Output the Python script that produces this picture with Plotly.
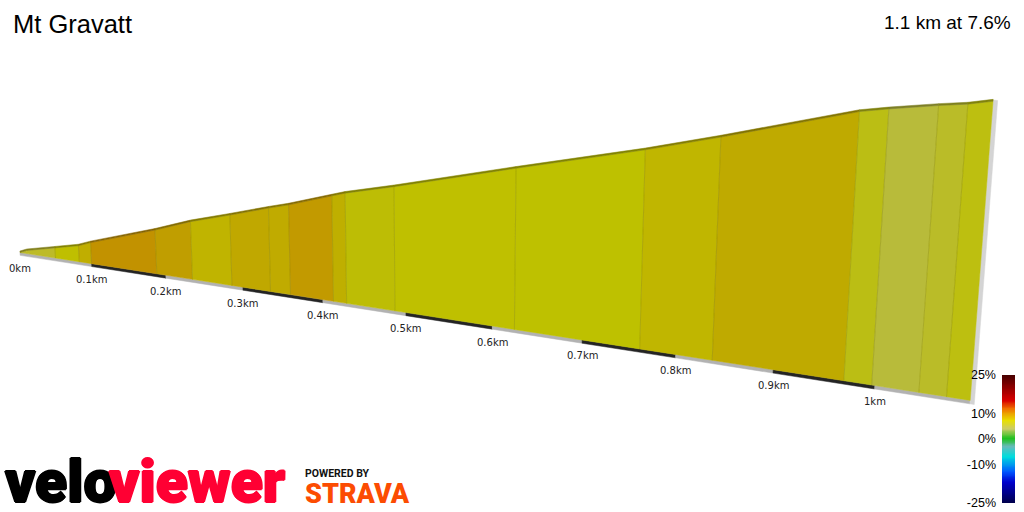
"""Mt Gravatt climb profile drawn as a wall seen in perspective."""
import plotly.graph_objects as go

# profile
distance_km = [0, 0.01, 0.05, 0.083, 0.1, 0.188, 0.235, 0.286, 0.335, 0.36, 0.413, 0.429,
               0.487, 0.625, 0.762, 0.838, 0.97, 0.997, 1.042, 1.068, 1.09]
elevation_m = [0, 1.1, 3.5, 5.5, 7.2, 14.7, 19.2, 23.2, 27.2, 29.1, 33.8, 35.2,
               39.2, 49.4, 59.2, 65.2, 76.2, 77.7, 79.9, 81.0, 82.4]
segment_colors = ["#BDBB28", "#BDBB28", "#BFBF00", "#C0AE00", "#C29200", "#C09E00", "#C0B400",
                  "#C0A800", "#C0AB00", "#C29A00", "#BFAF00", "#BDBD05", "#BFC000",
                  "#BEC100", "#C0B600", "#BFAA00", "#BBBE14", "#B8BB3A", "#BABC28", "#BDBF10"]

tick_km = [0, 0.1, 0.2, 0.3, 0.4, 0.5, 0.6, 0.7, 0.8, 0.9, 1.0, 1.09]
tick_labels = ["0km", "0.1km", "0.2km", "0.3km", "0.4km", "0.5km",
               "0.6km", "0.7km", "0.8km", "0.9km", "1km"]

scale_values = [25, 15.3, 12, 7.5, 4.2, 0.3, -2.7, -6.8, -12.7, -16.6, -25]
scale_colors = ["#4A0000", "#D80000", "#F07000", "#E8E000", "#CCCC66", "#20C020",
                "#66BBBB", "#00DDDD", "#0055FF", "#0000CC", "#00004A"]
scale_ticks = [25, 10, 0, -10, -25]
scale_labels = ["25%", "10%", "0%", "-10%", "-25%"]
scale_levels = list(range(-25, 26))


def project(d, z):
    """Perspective map of wall coordinates (km, metres) to page pixels."""
    e = -0.000407 * z
    w = 1 - 0.177 * d + e
    return (700 * d + 20 + 443 * e) / w, (64.8 * d + 252.5 + 7300 * e) / w


def quad(d0, z0, d1, z1, z2, z3):
    """Closed polygon between two wall columns."""
    pts = [project(d0, z0), project(d1, z1), project(d1, z2), project(d0, z3), project(d0, z0)]
    return [p[0] for p in pts], [p[1] for p in pts]


def add_poly(fig, xs, ys, color):
    fig.add_trace(go.Scatter(x=xs, y=ys, mode="lines", fill="toself", fillcolor=color,
                             line=dict(color=color, width=0.5), hoverinfo="skip",
                             showlegend=False))


def darken(color, k=0.68):
    r, g, b = (int(color[i:i + 2], 16) for i in (1, 3, 5))
    return f"rgb({r * k:.0f},{g * k:.0f},{b * k:.0f})"


fig = go.Figure()

# base strip, alternating grey and black every 100 m
for i in range(len(tick_km) - 1):
    color = "#242424" if i % 2 else "#B2B2B2"
    add_poly(fig, *quad(tick_km[i], 0, tick_km[i + 1], 0, -1, -1), color)

# end of the wall
last_d, last_z = distance_km[-1], elevation_m[-1]
add_poly(fig, *quad(last_d, -1, last_d + 0.004, -1, last_z + 0.3, last_z + 0.3), "#D4D4D4")

# gradient segments with the thin top surface above them
for i, color in enumerate(segment_colors):
    d0, d1 = distance_km[i], distance_km[i + 1]
    z0, z1 = elevation_m[i], elevation_m[i + 1]
    add_poly(fig, *quad(d0, 0, d1, 0, z1, z0), color)
    add_poly(fig, *quad(d0, z0, d1, z1, z1 + 0.5, z0 + 0.5), darken(color))

# faint lines between segments
for d, z in zip(distance_km[2:-1], elevation_m[2:-1]):
    a, b = project(d, 0), project(d, z)
    fig.add_trace(go.Scatter(x=[a[0], b[0]], y=[a[1], b[1]], mode="lines",
                             line=dict(color="rgba(120,120,0,0.3)", width=1),
                             hoverinfo="skip", showlegend=False))

# gradient scale
fig.add_trace(go.Heatmap(
    x=[0], y=scale_levels, z=[[v] for v in scale_levels], zsmooth="best",
    xaxis="x2", yaxis="y2", zmin=-25, zmax=25, showscale=False, hoverinfo="skip",
    colorscale=[[(v + 25) / 50, c] for v, c in sorted(zip(scale_values, scale_colors))],
))

notes = []
for d, label in zip(tick_km, tick_labels):
    x, y = project(d, 0)
    notes.append(dict(x=x, y=y, yshift=-16, text=label, showarrow=False, xanchor="center",
                      yanchor="middle", font=dict(family="DejaVu Sans", size=10, color="#222222")))


def page_text(x, y, text, size, color, family="Liberation Sans", anchor="left", **font_opts):
    notes.append(dict(x=x, y=y, text=text, showarrow=False, xanchor=anchor, yanchor="middle",
                      font=dict(family=family, size=size, color=color, **font_opts)))


page_text(11, 24, "Mt Gravatt", 25.5, "#000000")
page_text(1013, 22, "1.1 km at 7.6%", 19, "#000000", anchor="right")
page_text(3, 481, "velo", 59, "#000000", family="Roboto", weight=900,
          shadow="1px 0 0 #000000, -1px 0 0 #000000, 0 1px 0 #000000, 0 -1px 0 #000000")
page_text(107, 481, "viewer", 59, "#FF0033", family="Roboto", weight=900,
          shadow="1px 0 0 #FF0033, -1px 0 0 #FF0033, 0 1px 0 #FF0033, 0 -1px 0 #FF0033")
page_text(303, 473, "POWERED BY", 10.5, "#111111", family="Roboto", weight=700)
page_text(303, 494, "STRAVA", 27, "#FC4C02", family="Roboto", weight=900)

fig.update_layout(
    width=1024, height=512, margin=dict(l=0, r=0, t=0, b=0),
    paper_bgcolor="white", plot_bgcolor="white", showlegend=False,
    xaxis=dict(range=[0, 1024], visible=False, domain=[0, 1], automargin=False),
    yaxis=dict(range=[512, 0], visible=False, domain=[0, 1], automargin=False),
    xaxis2=dict(domain=[1002 / 1024, 1015 / 1024], anchor="y2", visible=False, automargin=False),
    yaxis2=dict(domain=[1 - 503 / 512, 1 - 375 / 512], anchor="x2", range=[-25, 25],
                tickvals=scale_ticks, ticktext=scale_labels, ticks="", showgrid=False,
                zeroline=False, showline=False, ticklabelstandoff=5, automargin=False,
                tickfont=dict(family="Liberation Sans", size=12.5, color="#000000")),
    annotations=notes,
)

fig.write_html("out.html", config={"displayModeBar": False},
               post_script="document.body.style.margin='0';document.body.style.overflow='hidden';")
